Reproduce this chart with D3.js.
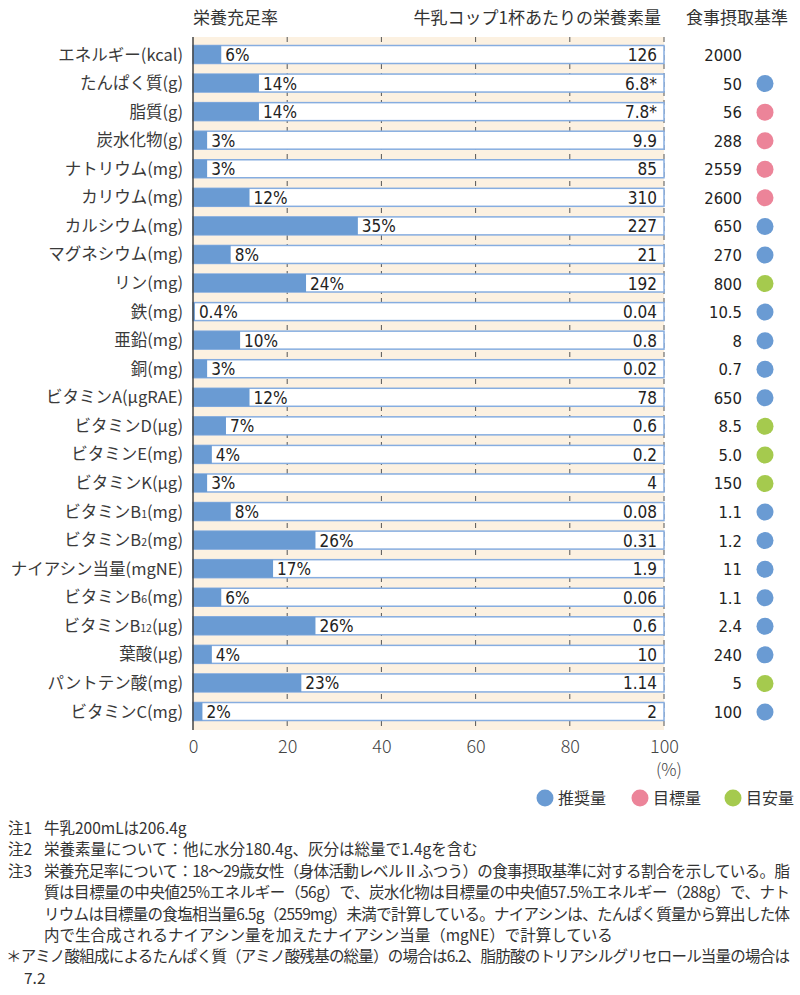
<!DOCTYPE html>
<html><head><meta charset="utf-8">
<script src="https://cdn.jsdelivr.net/npm/d3@7"></script>
<style>
body{margin:0;background:#fff;}
svg{display:block;}
</style></head>
<body>
<script>
const names = ["エネルギー(kcal)","たんぱく質(g)","脂質(g)","炭水化物(g)","ナトリウム(mg)","カリウム(mg)","カルシウム(mg)","マグネシウム(mg)","リン(mg)","鉄(mg)","亜鉛(mg)","銅(mg)","ビタミンA(μgRAE)","ビタミンD(μg)","ビタミンE(mg)","ビタミンK(μg)","ビタミンB1(mg)","ビタミンB2(mg)","ナイアシン当量(mgNE)","ビタミンB6(mg)","ビタミンB12(μg)","葉酸(μg)","パントテン酸(mg)","ビタミンC(mg)"];
const pct = [6,14,14,3,3,12,35,8,24,0.4,10,3,12,7,4,3,8,26,17,6,26,4,23,2];
const amounts = ["126","6.8*","7.8*","9.9","85","310","227","21","192","0.04","0.8","0.02","78","0.6","0.2","4","0.08","0.31","1.9","0.06","0.6","10","1.14","2"];
const standards = ["2000","50","56","288","2559","2600","650","270","800","10.5","8","0.7","650","8.5","5.0","150","1.1","1.2","11","1.1","2.4","240","5","100"];
const types = ["","rec","goal","goal","goal","goal","rec","rec","adq","rec","rec","rec","rec","adq","adq","adq","rec","rec","rec","rec","rec","rec","adq","rec"];
const xTicks = [0,20,40,60,80,100];
const legendKeys = ["rec","goal","adq"];
const legendLabels = ["推奨量","目標量","目安量"];
const headers = ["栄養充足率","牛乳コップ1杯あたりの栄養素量","食事摂取基準"];
const notes = [
 ["注1","牛乳200mLは206.4g",false],
 ["注2","栄養素量について：他に水分180.4g、灰分は総量で1.4gを含む",false],
 ["注3","栄養充足率について：18〜29歳女性（身体活動レベルⅡふつう）の食事摂取基準に対する割合を示している。脂",true],
 ["","質は目標量の中央値25%エネルギー（56g）で、炭水化物は目標量の中央値57.5%エネルギー（288g）で、ナト",true],
 ["","リウムは目標量の食塩相当量6.5g（2559mg）未満で計算している。ナイアシンは、たんぱく質量から算出した体",true],
 ["","内で生合成されるナイアシン量を加えたナイアシン当量（mgNE）で計算している",false]
];
const footnote = ["＊アミノ酸組成によるたんぱく質（アミノ酸残基の総量）の場合は6.2、脂肪酸のトリアシルグリセロール当量の場合は","7.2"];

const W=800,H=995;
const colors = {rec:"#6a9bd3", goal:"#ec8499", adq:"#a5ca4e"};
const JP = "'Noto Sans CJK JP','Noto Sans',sans-serif";
const NARROW = "'Liberation Sans Narrow','DejaVu Sans Condensed',sans-serif";

const svg = d3.select("body").append("svg").attr("width",W).attr("height",H);
const x = d3.scaleLinear().domain([0,100]).range([193,664]);
const y = d3.scalePoint().domain(names).range([54.5,711.5]);
const boxH = 18;
const top0 = 37, bot0 = 730;

// headers
svg.append("text").attr("x",193).attr("y",24).attr("font-family",JP).attr("font-size",17).attr("fill","#333").text(headers[0]);
svg.append("text").attr("x",661).attr("y",24).attr("text-anchor","end").attr("font-family",JP).attr("font-size",17).attr("fill","#333").text(headers[1]);
svg.append("text").attr("x",686).attr("y",24).attr("font-family",JP).attr("font-size",17).attr("fill","#333").text(headers[2]);

// cream background
svg.append("rect").attr("x",x(0)).attr("y",top0).attr("width",x(100)-x(0)).attr("height",bot0-top0).attr("fill","#fcf1e1");

// dashed grid
svg.selectAll("line.grid").data(xTicks.slice(1)).join("line").attr("class","grid")
  .attr("x1",d=>x(d)).attr("x2",d=>x(d)).attr("y1",top0).attr("y2",bot0)
  .attr("stroke","#555").attr("stroke-width",1).attr("stroke-dasharray","5,4");

// rows
const rows = svg.selectAll("g.row").data(names.map((n,i)=>({n,i}))).join("g").attr("class","row");
rows.append("rect").attr("x",x(0)).attr("y",d=>y(d.n)-boxH/2).attr("width",x(100)-x(0)).attr("height",boxH)
  .attr("fill","#fff").attr("stroke","#86ade0").attr("stroke-width",1.5);
rows.append("rect").attr("x",x(0)).attr("y",d=>y(d.n)-boxH/2).attr("width",d=>x(pct[d.i])-x(0)).attr("height",boxH)
  .attr("fill","#6a9bd3");
rows.append("text").attr("x",d=>x(pct[d.i])+4).attr("y",d=>y(d.n)+6.5)
  .attr("font-family",NARROW).attr("font-size",17).attr("fill","#222").text(d=>pct[d.i]+"%");
rows.append("text").attr("x",657).attr("y",d=>y(d.n)+6.5).attr("text-anchor","end")
  .attr("font-family",NARROW).attr("font-size",17).attr("fill","#222").text(d=>amounts[d.i]);
rows.append("text").attr("x",742).attr("y",d=>y(d.n)+6.5).attr("text-anchor","end")
  .attr("font-family","'DejaVu Sans Condensed',sans-serif").attr("font-size",16.5).attr("fill","#222").text(d=>standards[d.i]);
rows.filter(d=>types[d.i]).append("circle").attr("cx",765).attr("cy",d=>y(d.n)+0.5).attr("r",8.5)
  .attr("fill",d=>colors[types[d.i]]);

// category labels with subscripts
rows.each(function(d){
  const t = d3.select(this).append("text").attr("x",183).attr("y",y(d.n)+6).attr("text-anchor","end")
    .attr("font-family",JP).attr("font-size",16.5).attr("fill","#3a3a3a");
  const m = d.n.match(/^(ビタミンB)(\d+)(.*)$/);
  if(m){
    t.append("tspan").text(m[1]);
    t.append("tspan").attr("font-size",10.5).text(m[2]);
    t.append("tspan").text(m[3]);
  } else t.text(d.n);
});

// left axis line
svg.append("line").attr("x1",x(0)).attr("x2",x(0)).attr("y1",top0).attr("y2",bot0).attr("stroke","#444").attr("stroke-width",1.5);

// bottom axis
const ax = svg.append("g").attr("transform",`translate(0,${bot0})`)
  .call(d3.axisBottom(x).tickValues(xTicks).tickSize(0).tickPadding(10));
ax.select(".domain").remove();
ax.selectAll("text").attr("font-family",JP).attr("font-weight",300).attr("font-size",18).attr("fill","#444");
svg.append("text").attr("x",669).attr("y",776).attr("text-anchor","middle").attr("font-family",JP).attr("font-weight",300).attr("font-size",17).attr("fill","#444").text("(%)");

// legend
const lx = [545,640,733];
legendKeys.forEach((k,i)=>{
  svg.append("circle").attr("cx",lx[i]).attr("cy",798).attr("r",8.5).attr("fill",colors[k]);
  svg.append("text").attr("x",lx[i]+13).attr("y",804).attr("font-family",JP).attr("font-size",16).attr("fill","#333").text(legendLabels[i]);
});

// notes
const ny0 = 834, nStep = 21.4, nfs = 15.5;
notes.forEach((n,i)=>{
  const yy = ny0 + i*nStep;
  if(n[0]) svg.append("text").attr("x",8).attr("y",yy).attr("font-family",JP).attr("font-size",nfs).attr("fill","#333").text(n[0]);
  const t = svg.append("text").attr("x",44).attr("y",yy).attr("font-family",JP).attr("font-size",nfs).attr("fill","#333").text(n[1]);
  if(n[2]) t.attr("textLength",746).attr("lengthAdjust","spacing");
});
const fy = ny0 + notes.length*nStep;
svg.append("text").attr("x",6).attr("y",fy).attr("font-family",JP).attr("font-size",nfs).attr("fill","#333")
  .attr("textLength",784).attr("lengthAdjust","spacing").text(footnote[0]);
svg.append("text").attr("x",24).attr("y",fy+nStep).attr("font-family",JP).attr("font-size",nfs).attr("fill","#333").text(footnote[1]);
</script>
</body></html>
